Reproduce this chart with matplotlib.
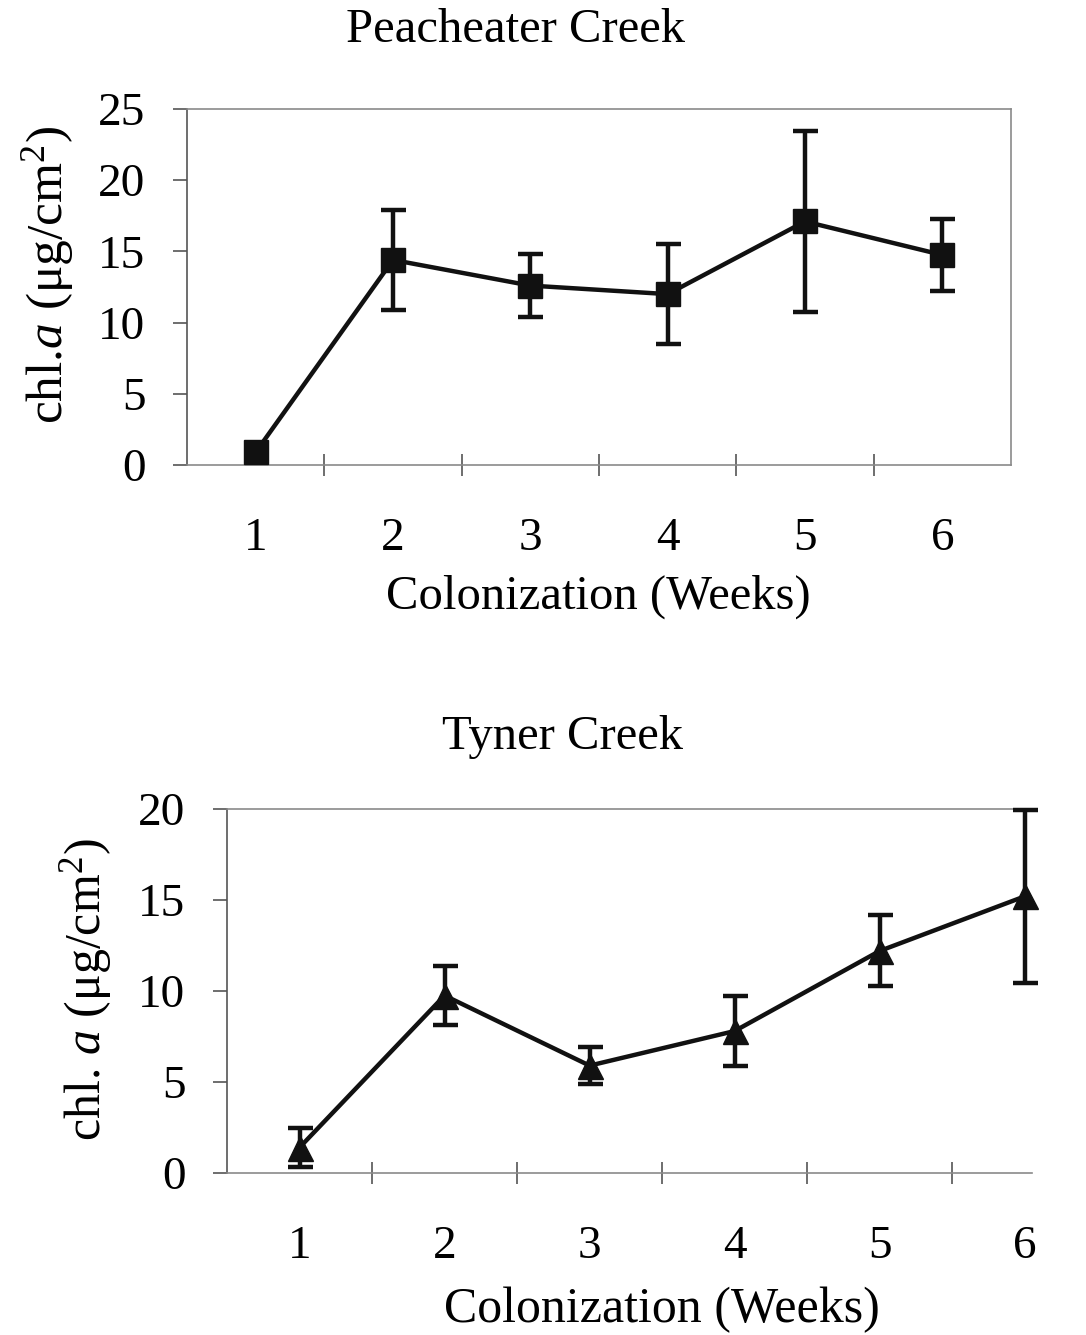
import matplotlib
matplotlib.use("Agg")
import matplotlib.pyplot as plt
import numpy as np

plt.rcParams['font.family'] = ['Liberation Serif', 'DejaVu Serif']
plt.rcParams['mathtext.fontset'] = 'custom'
plt.rcParams['mathtext.rm'] = 'Liberation Serif'
plt.rcParams['mathtext.it'] = 'Liberation Serif:italic'

weeks = [1, 2, 3, 4, 5, 6]

# Peacheater Creek chlorophyll a (mean, error)
peach_mean = [0.9, 14.4, 12.6, 12.0, 17.1, 14.75]
peach_err = [0.0, 3.5, 2.2, 3.5, 6.35, 2.5]

# Tyner Creek chlorophyll a (mean, error)
tyner_mean = [1.4, 9.75, 5.9, 7.8, 12.2, 15.2]
tyner_err = [1.05, 1.6, 1.0, 1.9, 1.95, 4.75]

W, H = 1086, 1335
fig = plt.figure(figsize=(W / 100, H / 100), dpi=100)


def px_axes(x0, y0, x1, y1):
    return fig.add_axes([x0 / W, 1 - y1 / H, (x1 - x0) / W, (y1 - y0) / H])


FS = 34
LFS = 35
FRAME = '#8a8a8a'


def style(ax, xlim, ymax, show_right):
    ax.set_xlim(*xlim)
    ax.set_ylim(0, ymax)
    ax.set_yticks(np.arange(0, ymax + 1, 5))
    ax.set_xticks(weeks)
    ax.set_xticks(np.arange(1.5, 6.0, 1.0), minor=True)
    ax.tick_params(axis='x', which='major', length=0, pad=38, labelsize=FS)
    ax.tick_params(axis='x', which='minor', direction='inout', length=16,
                   width=1.2, color='#555555')
    ax.tick_params(axis='y', direction='out', length=10, width=1.2,
                   color='#555555', pad=20, labelsize=FS)
    for name, sp in ax.spines.items():
        sp.set_color(FRAME)
        sp.set_linewidth(1.2)
    ax.spines['left'].set_color('#555555')
    ax.spines['right'].set_visible(show_right)


# Top panel
ax1 = px_axes(187, 109, 1011, 465)
ax1.errorbar(weeks, peach_mean, yerr=peach_err, color='#111111', lw=3.2,
             marker='s', ms=17, elinewidth=3.2, capsize=9, capthick=3.2,
             clip_on=False, zorder=3)
style(ax1, (0.5, 6.5), 25, True)
ax1.set_xticks(np.arange(1.5, 6.5, 1.0), minor=True)

# Bottom panel
ax2 = px_axes(227, 809, 1032, 1173)
ax2.errorbar(weeks, tyner_mean, yerr=tyner_err, color='#111111', lw=3.2,
             marker='^', ms=18, elinewidth=3.2, capsize=9, capthick=3.2,
             clip_on=False, zorder=3)
style(ax2, (0.5, 6.05), 20, False)

# Titles and axis labels
fig.text(515 / W, 1 - 30 / H, 'Peacheater Creek', ha='center', va='center', fontsize=LFS)
fig.text(562 / W, 1 - 737 / H, 'Tyner Creek', ha='center', va='center', fontsize=LFS)
fig.text(598 / W, 1 - 597 / H, 'Colonization (Weeks)', ha='center', va='center',
         fontsize=LFS)
fig.text(662 / W, 1 - 1310 / H, 'Colonization (Weeks)', ha='center', va='center',
         fontsize=LFS + 1)
fig.text(48 / W, 1 - 275 / H, 'chl.$\\mathit{a}$ (μg/cm$^2$)', rotation=90,
         ha='center', va='center', fontsize=LFS + 2)
fig.text(86 / W, 1 - 990 / H, 'chl. $\\mathit{a}$ (μg/cm$^2$)', rotation=90,
         ha='center', va='center', fontsize=LFS + 1)

fig.savefig('out.png', dpi=100, facecolor='white')
